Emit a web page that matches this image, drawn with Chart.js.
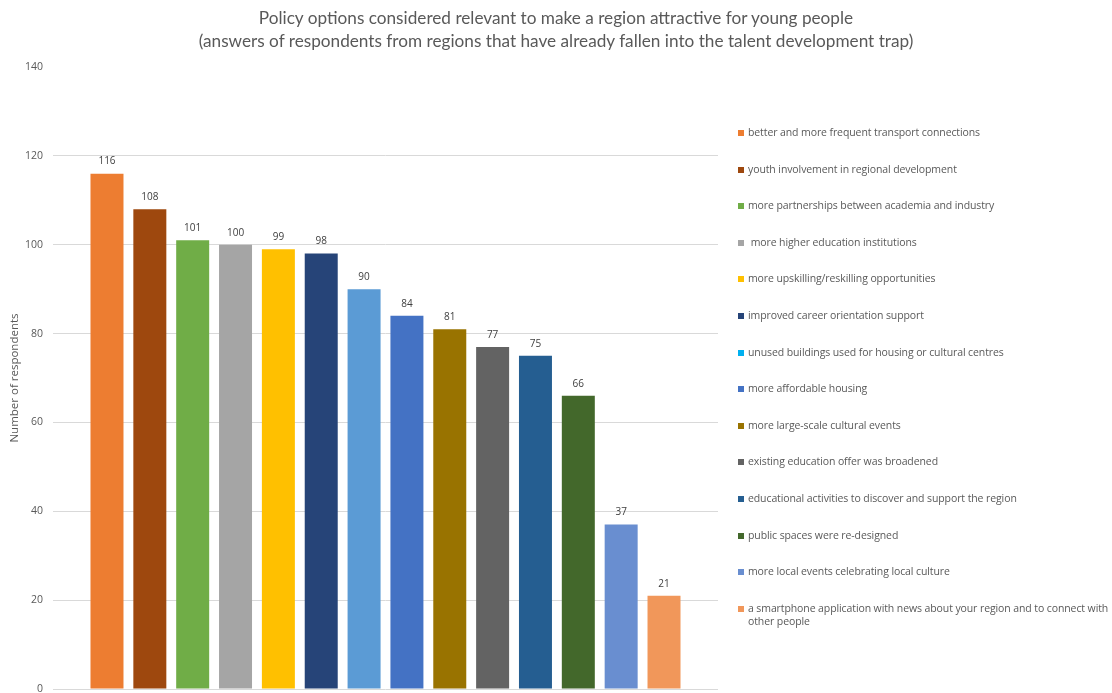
<!DOCTYPE html>
<html>
<head>
<meta charset="utf-8">
<script src="https://cdn.jsdelivr.net/npm/chart.js@4/dist/chart.umd.min.js"></script>
<style>
  html, body { margin: 0; padding: 0; background: #fff; }
  #wrap { position: relative; width: 1112px; height: 693px; overflow: hidden; }
  #chart { position: absolute; left: 0; top: 0; }
  #title {
    position: absolute; left: 56px; width: 1000px; top: 6px;
    text-align: center; color: #595959;
    font: 17.2px Lato, sans-serif;
    line-height: 23px; white-space: nowrap;
  }
  #legend { position: absolute; left: 738px; top: 126px; width: 382px; }
  .item {
    position: relative; height: 36.6px; padding-left: 10px;
    color: #595959; font: 10.5px "Open Sans", sans-serif; line-height: 13px;
    white-space: pre-wrap; letter-spacing: -0.1px;
  }
  .item i { position: absolute; left: 0; top: 4px; width: 6px; height: 6px; }
</style>
</head>
<body>
<div id="wrap">
  <canvas id="chart" width="1112" height="693"></canvas>
  <div id="title">Policy options considered relevant to make a region attractive for young people<br>(answers of respondents from regions that have already fallen into the talent development trap)</div>
  <div id="legend"></div>
</div>
<script>
const categories = [
  'better and more frequent transport connections',
  'youth involvement in regional development',
  'more partnerships between academia and industry',
  ' more higher education institutions',
  'more upskilling/reskilling opportunities',
  'improved career orientation support',
  'unused buildings used for housing or cultural centres',
  'more affordable housing',
  'more large-scale cultural events',
  'existing education offer was broadened',
  'educational activities to discover and support the region',
  'public spaces were re-designed',
  'more local events celebrating local culture',
  'a smartphone application with news about your region and to connect with other people'
];
const values = [116, 108, 101, 100, 99, 98, 90, 84, 81, 77, 75, 66, 37, 21];
const barColors = ['#ED7D31', '#9E480E', '#70AD47', '#A5A5A5', '#FFC000', '#264478', '#5B9BD5',
  '#4472C4', '#997300', '#636363', '#255E91', '#43682B', '#698ED0', '#F1975A'];
const legendColors = ['#ED7D31', '#9E480E', '#70AD47', '#A5A5A5', '#FFC000', '#264478', '#00B0F0',
  '#4472C4', '#997300', '#636363', '#255E91', '#43682B', '#698ED0', '#F1975A'];
const yTicks = [0, 20, 40, 60, 80, 100, 120, 140];

// value labels above each bar
const valueLabels = {
  id: 'valueLabels',
  afterDatasetsDraw(chart) {
    const ctx = chart.ctx;
    const meta = chart.getDatasetMeta(0);
    ctx.save();
    ctx.fillStyle = '#404040';
    ctx.font = '10px "Open Sans", sans-serif';
    ctx.textAlign = 'center';
    ctx.textBaseline = 'middle';
    meta.data.forEach((bar, i) => {
      ctx.fillText(values[i], bar.x, bar.y - 12);
    });
    ctx.restore();
  }
};

new Chart(document.getElementById('chart'), {
  type: 'bar',
  data: {
    datasets: [{
      data: values.map((v, i) => ({ x: i, y: v })),
      backgroundColor: barColors,
      borderWidth: 0,
      barPercentage: 0.77,
      categoryPercentage: 1
    }]
  },
  options: {
    responsive: false,
    animation: false,
    layout: { padding: { left: 3, right: 394, top: 67, bottom: 4 } },
    plugins: {
      legend: { display: false },
      tooltip: { enabled: false },
      title: { display: false }
    },
    scales: {
      x: {
        type: 'linear',
        min: -1.26,
        max: 14.26,
        offset: false,
        display: false
      },
      y: {
        min: 0,
        max: 140,
        afterBuildTicks: (s) => { s.ticks = yTicks.map(v => ({ value: v })); },
        afterFit: (s) => {
          s.width = 50;
          s.paddingTop = 0;
          s.paddingBottom = 0;
        },
        border: { display: false },
        grid: {
          color: (c) => c.tick && c.tick.value === 140 ? 'rgba(0,0,0,0)' : '#D9D9D9',
          drawTicks: false
        },
        ticks: {
          color: '#595959',
          font: { size: 10.5, family: '"Open Sans", sans-serif' },
          padding: 10
        },
        title: {
          display: true,
          text: 'Number of respondents',
          color: '#595959',
          font: { size: 11.5, family: '"Open Sans", sans-serif' },
          padding: { top: 5, bottom: 0 }
        }
      }
    }
  },
  plugins: [valueLabels]
});

const legend = document.getElementById('legend');
categories.forEach((name, i) => {
  const item = document.createElement('div');
  item.className = 'item';
  const sw = document.createElement('i');
  sw.style.background = legendColors[i];
  item.appendChild(sw);
  item.appendChild(document.createTextNode(name));
  legend.appendChild(item);
});
</script>
</body>
</html>
